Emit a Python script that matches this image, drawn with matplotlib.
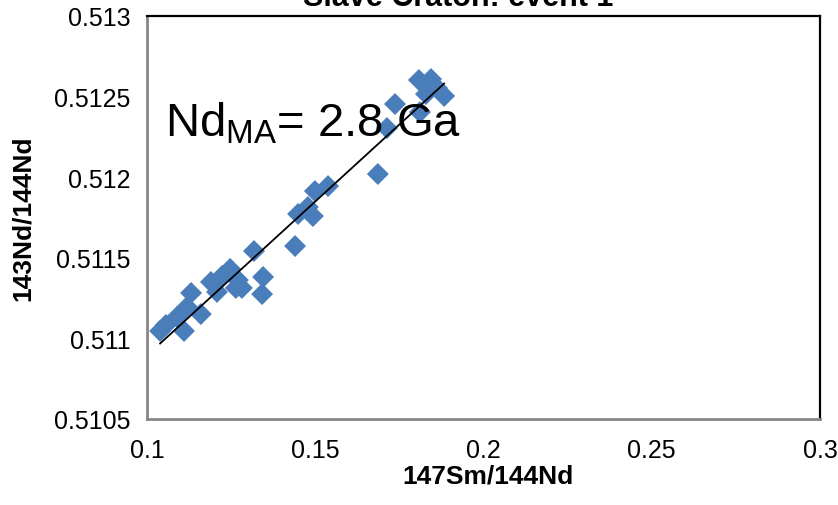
import numpy as np
import matplotlib
matplotlib.use("Agg")
import matplotlib.pyplot as plt

plt.rcParams['font.family'] = ['Liberation Sans', 'DejaVu Sans']
plt.rcParams['mathtext.fontset'] = 'custom'
plt.rcParams['mathtext.rm'] = 'Liberation Sans'
plt.rcParams['mathtext.it'] = 'Liberation Sans'

# 147Sm/144Nd
sm_nd = [0.1039, 0.1056, 0.1110, 0.1089, 0.1119, 0.1131, 0.1160, 0.1190, 0.1208,
         0.1223, 0.1247, 0.1270, 0.1282, 0.1264, 0.1345, 0.1342, 0.1318, 0.1440,
         0.1449, 0.1478, 0.1493, 0.1499, 0.1538, 0.1686, 0.1713, 0.1737, 0.1811,
         0.1808, 0.1844, 0.1862, 0.1883, 0.1829]
# 143Nd/144Nd
nd_nd = [0.511046, 0.511083, 0.511046, 0.511133, 0.511195, 0.511282, 0.511151, 0.511350,
         0.511288, 0.511387, 0.511431, 0.511362, 0.511313, 0.511313, 0.511381, 0.511275,
         0.511542, 0.511573, 0.511772, 0.511815, 0.511759, 0.511914, 0.511945, 0.512020,
         0.512305, 0.512454, 0.512404, 0.512603, 0.512609, 0.512553, 0.512504, 0.512516]

x_ticks = [0.1, 0.15, 0.2, 0.25, 0.3]
x_tick_labels = ["0.1", "0.15", "0.2", "0.25", "0.3"]
y_ticks = [0.5105, 0.511, 0.5115, 0.512, 0.5125, 0.513]
y_tick_labels = ["0.5105", "0.511", "0.5115", "0.512", "0.5125", "0.513"]

title = "Slave Craton: event 1"
annotation = r"Nd$_{\mathrm{MA}}$= 2.8 Ga"

fig = plt.figure(figsize=(8.38, 5.06), dpi=100)
ax = fig.add_axes([147/838, 1-420/506, (820-147)/838, (420-17)/506])

x = np.array(sm_nd)
y = np.array(nd_nd)
ax.scatter(x, y, marker='D', s=125, color='#4A7EBB', edgecolors='none', zorder=3)

slope, intercept = np.polyfit(x, y, 1)
xl = np.array([x.min(), x.max()])
ax.plot(xl, slope * xl + intercept, color='black', lw=1.3, zorder=4)

ax.set_xlim(0.1, 0.3)
ax.set_ylim(0.5105, 0.513)
ax.set_xticks(x_ticks)
ax.set_xticklabels(x_tick_labels)
ax.set_yticks(y_ticks)
ax.set_yticklabels(y_tick_labels)
ax.tick_params(axis='both', length=0, labelsize=18)
ax.tick_params(axis='x', pad=14)
ax.tick_params(axis='y', pad=12)

for s in ['left', 'bottom']:
    ax.spines[s].set_color('#868686')
    ax.spines[s].set_linewidth(2)
for s in ['top', 'right']:
    ax.spines[s].set_color('black')
    ax.spines[s].set_linewidth(1.6)

ax.set_xlabel("147Sm/144Nd", fontsize=19, fontweight='bold')
ax.xaxis.set_label_coords((488-147)/673, (420-465)/403)
ax.set_ylabel("143Nd/144Nd", fontsize=19, fontweight='bold', labelpad=14)

ax.text(165/838, 1-137/506, annotation, transform=fig.transFigure, fontsize=34,
        va='baseline', ha='left', zorder=5)

fig.text(458/838, 1-6/506, title, fontsize=22, fontweight='bold', ha='center', va='baseline')

fig.savefig("out.png", dpi=100)
